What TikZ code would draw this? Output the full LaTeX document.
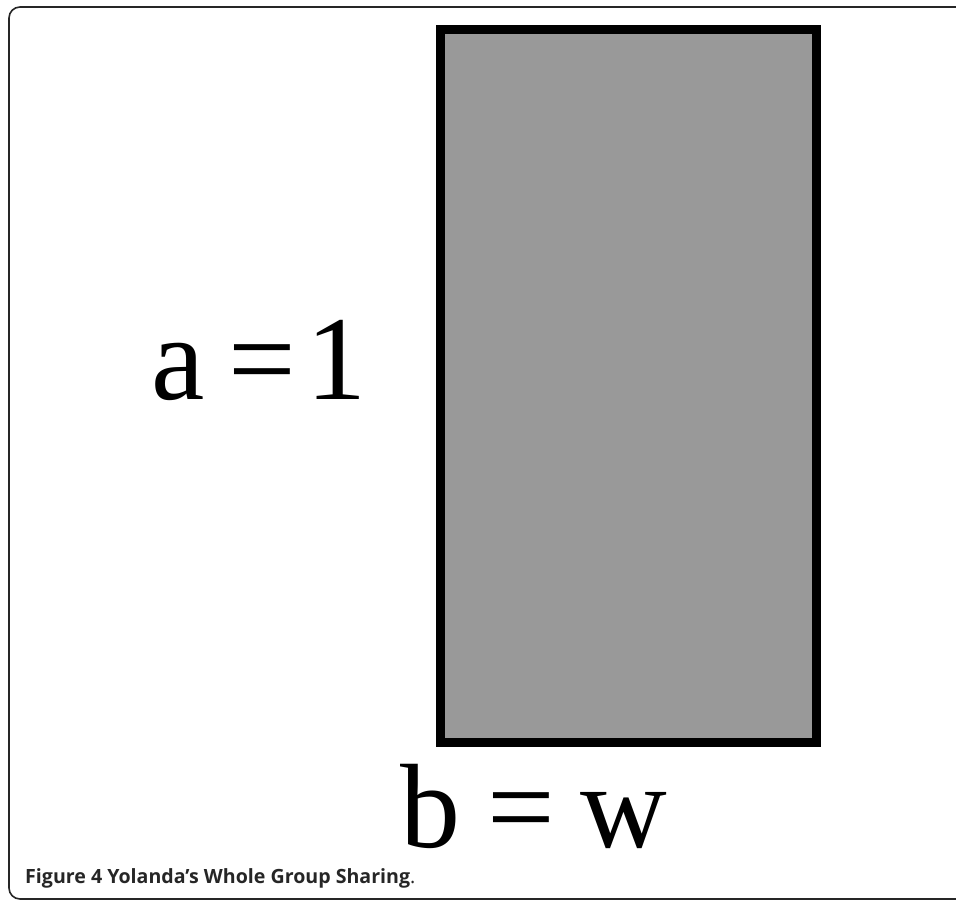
\documentclass[tikz,border=0pt]{standalone}
\usepackage{fontspec}
\setmainfont{Liberation Serif}
\newfontfamily\capfont{Open Sans}
\begin{document}
\begin{tikzpicture}[x=1pt,y=1pt,
  glyph/.style={anchor=base,inner sep=0pt,font=\fontsize{120}{120}\selectfont},
  frameline/.style={draw=black!85,line width=1.6pt,rounded corners=11pt},
  box/.style={draw=black,line width=9pt,fill=black!40}]
\useasboundingbox (0,0) rectangle (956,901);
\draw[frameline] (970,894) -- (9,894) -- (9,2) -- (970,2);
\draw[box] (440,871) rectangle (816,158);
\node[glyph] (aL) at (178,501) {a};
\node[glyph] (aEq) at (262,501) {=};
\node[glyph] (aOne) at (336,501) {1};
\node[glyph] (bL) at (430,53) {b};
\node[glyph] (bEq) at (521,53) {=};
\node[glyph] (bW) at (624,53) {w};
\node[anchor=base west,inner sep=0pt,text=black!85,font=\capfont\bfseries\fontsize{19.6}{24}\selectfont] (cap) at (25,17) {Figure 4 Yolanda’s Whole Group Sharing{\mdseries .}};
\end{tikzpicture}
\end{document}
